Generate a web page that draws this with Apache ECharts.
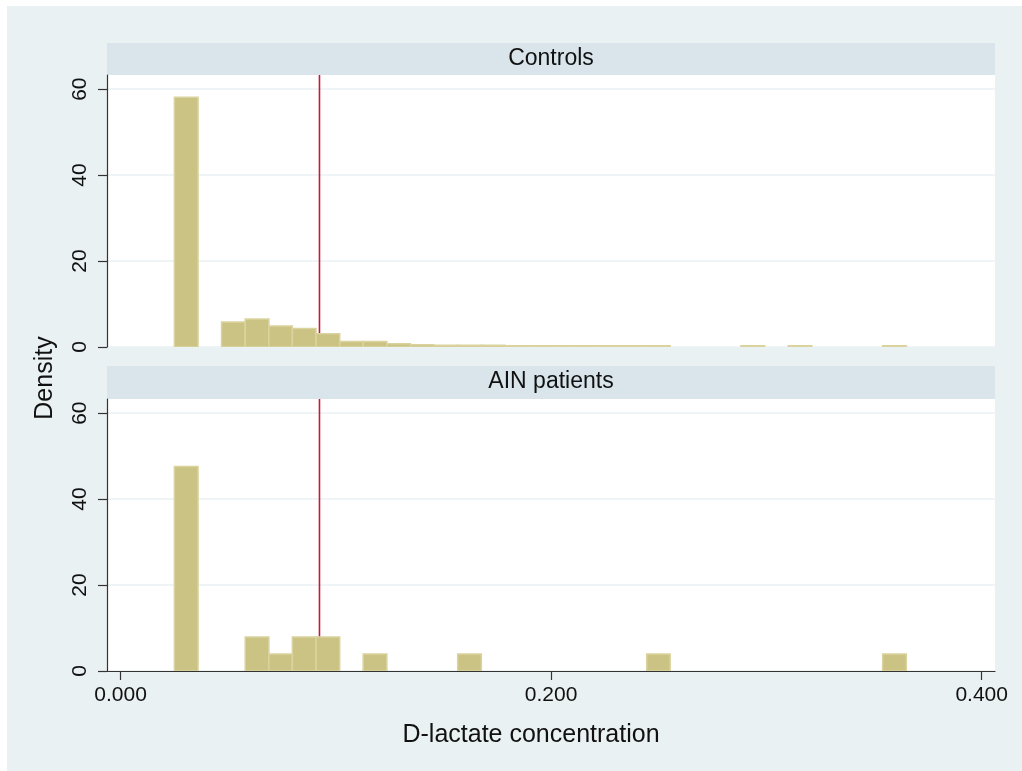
<!DOCTYPE html>
<html>
<head>
<meta charset="utf-8">
<script src="https://cdn.jsdelivr.net/npm/echarts@6/dist/echarts.min.js"></script>
<style>html,body{margin:0;padding:0;background:#fff;}#c{width:1022px;height:771px;}</style>
</head>
<body>
<div id="c"></div>
<script>
// Bin edges of the histogram (D-lactate concentration), 31 bins
var binEdges = [0.0250, 0.0360, 0.0469, 0.0579, 0.0689, 0.0798, 0.0908, 0.1018, 0.1127, 0.1237,
  0.1347, 0.1456, 0.1566, 0.1676, 0.1785, 0.1895, 0.2005, 0.2115, 0.2224, 0.2334,
  0.2444, 0.2553, 0.2663, 0.2773, 0.2882, 0.2992, 0.3102, 0.3211, 0.3321, 0.3431,
  0.3540, 0.3650];
// Density per bin – Controls
var controlsDensity = [58.1, 0, 5.8, 6.5, 4.9, 4.3, 3.1, 1.3, 1.3, 0.75,
  0.5, 0.4, 0.4, 0.4, 0.3, 0.3, 0.3, 0.3, 0.3, 0.3,
  0.3, 0, 0, 0, 0.3, 0, 0.3, 0, 0, 0,
  0.3];
// Density per bin – AIN patients
var ainDensity = [47.57, 0, 0, 7.93, 3.96, 7.93, 7.93, 0, 3.96, 0,
  0, 0, 3.96, 0, 0, 0, 0, 0, 0, 0,
  3.96, 0, 0, 0, 0, 0, 0, 0, 0, 0,
  3.96];
var panelTitles = ['Controls', 'AIN patients'];
var xTickValues = [0, 0.2, 0.4];
var yTickValues = [0, 20, 40, 60];
var cutoff = 0.0924;
var xTitle = 'D-lactate concentration';
var yTitle = 'Density';

var FONT = 'Arial, "Liberation Sans", sans-serif';
var xMin = -0.0063, xMax = 0.4062, yMax = 63.3;

function histData(vals) {
  var out = [];
  for (var i = 0; i < vals.length; i++) {
    if (vals[i] > 0) out.push([binEdges[i], binEdges[i + 1], vals[i]]);
  }
  return out;
}
function renderBar(params, api) {
  var p0 = api.coord([api.value(0), api.value(2)]);
  var p1 = api.coord([api.value(1), 0]);
  return {
    type: 'rect',
    shape: { x: p0[0], y: p0[1], width: p1[0] - p0[0], height: p1[1] - p0[1] },
    style: { fill: '#CBC383', stroke: '#DAD39F', lineWidth: 1.5 }
  };
}

var chart = echarts.init(document.getElementById('c'), null, { renderer: 'canvas' });
var grids = [
  { left: 107, right: 27, top: 75, height: 272, show: true, backgroundColor: '#ffffff', borderWidth: 0 },
  { left: 107, right: 27, top: 399, height: 272, show: true, backgroundColor: '#ffffff', borderWidth: 0 }
];
function yAxisFor(i) {
  return {
    type: 'value', gridIndex: i, min: 0, max: yMax,
    axisLine: { show: true, onZero: false, lineStyle: { color: '#333', width: 1.2 } },
    axisTick: { show: true, length: 9, customValues: yTickValues, lineStyle: { color: '#333', width: 1.2 } },
    axisLabel: { customValues: yTickValues, rotate: 90, margin: 16, fontSize: 21, color: '#111', fontFamily: FONT },
    splitLine: { show: true, lineStyle: { color: '#EAF2F3', width: 1.5 } }
  };
}
var option = {
  backgroundColor: '#ffffff',
  animation: false,
  graphic: [
    { type: 'rect', shape: { x: 7, y: 6, width: 1015, height: 765 }, style: { fill: '#EAF1F3' }, z: -10, silent: true },
    { type: 'rect', shape: { x: 107, y: 43, width: 888, height: 32 }, style: { fill: '#D9E5EB' }, z: -5 },
    { type: 'rect', shape: { x: 107, y: 366, width: 888, height: 33 }, style: { fill: '#D9E5EB' }, z: -5 },
    { type: 'text', x: 551, y: 59, style: { text: panelTitles[0], font: '23px ' + FONT, fill: '#111', textAlign: 'center', textVerticalAlign: 'middle' } },
    { type: 'text', x: 551, y: 382, style: { text: panelTitles[1], font: '23px ' + FONT, fill: '#111', textAlign: 'center', textVerticalAlign: 'middle' } },
    { type: 'text', x: 531, y: 735, style: { text: xTitle, font: '25px ' + FONT, fill: '#111', textAlign: 'center', textVerticalAlign: 'middle' } },
    { type: 'text', x: 45, y: 378, rotation: Math.PI / 2, style: { text: yTitle, font: '25px ' + FONT, fill: '#111', textAlign: 'center', textVerticalAlign: 'middle' } }
  ],
  grid: grids,
  xAxis: [
    { type: 'value', gridIndex: 0, min: xMin, max: xMax, show: false, splitLine: { show: false } },
    {
      type: 'value', gridIndex: 1, min: xMin, max: xMax,
      axisLine: { show: true, onZero: false, lineStyle: { color: '#333', width: 1.2 } },
      axisTick: { show: true, length: 9, customValues: xTickValues, lineStyle: { color: '#333', width: 1.2 } },
      axisLabel: { customValues: xTickValues, margin: 14, fontSize: 21, color: '#111', fontFamily: FONT,
        formatter: function (v) { return v.toFixed(3); } },
      splitLine: { show: false }
    }
  ],
  yAxis: [yAxisFor(0), yAxisFor(1)],
  series: [
    { type: 'line', xAxisIndex: 0, yAxisIndex: 0, data: [[cutoff, 0], [cutoff, yMax]], symbol: 'none',
      lineStyle: { color: '#C8163E', width: 1.6 }, z: 1 },
    { type: 'line', xAxisIndex: 1, yAxisIndex: 1, data: [[cutoff, 0], [cutoff, yMax]], symbol: 'none',
      lineStyle: { color: '#C8163E', width: 1.6 }, z: 1 },
    { type: 'custom', xAxisIndex: 0, yAxisIndex: 0, renderItem: renderBar, data: histData(controlsDensity),
      encode: { x: [0, 1], y: 2 }, clip: true, z: 2 },
    { type: 'custom', xAxisIndex: 1, yAxisIndex: 1, renderItem: renderBar, data: histData(ainDensity),
      encode: { x: [0, 1], y: 2 }, clip: true, z: 2 }
  ]
};
chart.setOption(option);
</script>
</body>
</html>
